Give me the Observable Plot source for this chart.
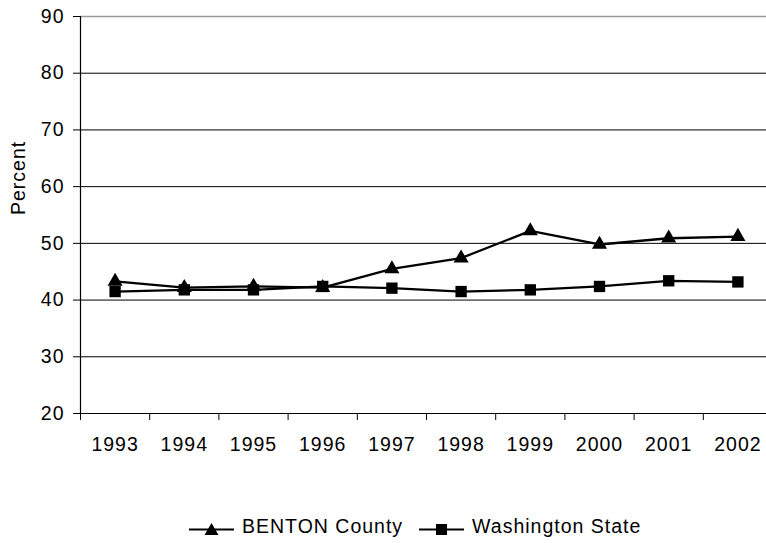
<!DOCTYPE html>
<html>
<head>
<meta charset="utf-8">
<script src="https://cdn.jsdelivr.net/npm/d3@7"></script>
<script src="https://cdn.jsdelivr.net/npm/@observablehq/plot@0.6"></script>
<style>
  body { margin: 0; background: white; position: relative; width: 766px; height: 543px; overflow: hidden; }
  #legend { position: absolute; top: 515px; left: 189px; display: flex; align-items: center;
            font-family: "Liberation Sans", Arial, sans-serif; font-size: 19.5px; letter-spacing: 1px;
            line-height: 22px; color: black; }
  #legend svg { display: block; }
</style>
</head>
<body>
<div id="chart"></div>
<div id="legend"></div>
<script>
const years = [1993, 1994, 1995, 1996, 1997, 1998, 1999, 2000, 2001, 2002];
const benton = [43.3, 42.2, 42.4, 42.2, 45.5, 47.4, 52.2, 49.8, 50.9, 51.2];
const washington = [41.5, 41.8, 41.8, 42.4, 42.1, 41.5, 41.8, 42.4, 43.4, 43.2];
const seriesNames = ["BENTON County", "Washington State"];
const yTicks = [20, 30, 40, 50, 60, 70, 80, 90];

const data = [
  ...years.map((yr, i) => ({year: yr, value: benton[i], series: seriesNames[0]})),
  ...years.map((yr, i) => ({year: yr, value: washington[i], series: seriesNames[1]}))
];
const boundaries = [...years.map(y => y - 0.5), years[years.length - 1] + 0.5];

const chart = Plot.plot({
  width: 766,
  height: 460,
  marginLeft: 80,
  marginRight: -6,
  marginTop: 16,
  marginBottom: 47,
  style: {fontFamily: "'Liberation Sans', Arial, sans-serif", fontSize: "19.5px", letterSpacing: "1px", color: "black", background: "white"},
  x: {domain: [boundaries[0], boundaries[boundaries.length - 1]], range: [80, 772]},
  y: {domain: [20, 90]},
  marks: [
    Plot.ruleY(yTicks.filter(v => v < 90), {stroke: "black", strokeWidth: 1}),
    Plot.ruleY([90], {stroke: "#999", strokeWidth: 1.5}),
    Plot.ruleX([boundaries[0]], {stroke: "black", strokeWidth: 1.2}),
    Plot.axisY(yTicks, {tickSize: 7, tickPadding: 9, label: null, stroke: "black"}),
    Plot.axisX(years, {tickSize: 0, tickPadding: 24, tickFormat: d => String(d), label: null}),
    Plot.axisX(boundaries, {tickSize: 7, tickFormat: () => "", label: null, stroke: "black"}),
    Plot.line(data, {x: "year", y: "value", z: "series", stroke: "black", strokeWidth: 2.3}),
    Plot.dot(data.filter(d => d.series === seriesNames[0]), {x: "year", y: "value", symbol: "triangle", fill: "black", r: 5.6}),
    Plot.dot(data.filter(d => d.series === seriesNames[1]), {x: "year", y: "value", symbol: "square", fill: "black", r: 6.4}),
    Plot.text(["Percent"], {frameAnchor: "left", dx: -62, rotate: -90, fill: "black"})
  ]
});
document.getElementById("chart").appendChild(chart);

// Legend
const legend = document.getElementById("legend");
const markers = [
  '<path d="M7,0 L14,12 L0,12 Z" transform="translate(15.5,8)" fill="black"/>',
  '<rect x="17" y="9" width="11" height="11" fill="black"/>'
];
seriesNames.forEach((name, i) => {
  const item = document.createElement("div");
  item.style.display = "flex";
  item.style.alignItems = "center";
  if (i > 0) item.style.marginLeft = "16px";
  item.innerHTML = `<svg width="45" height="22"><line x1="0" x2="45" y1="14.5" y2="14.5" stroke="black" stroke-width="2"/>${markers[i]}</svg><span style="margin-left:8px">${name}</span>`;
  legend.appendChild(item);
});
</script>
</body>
</html>
